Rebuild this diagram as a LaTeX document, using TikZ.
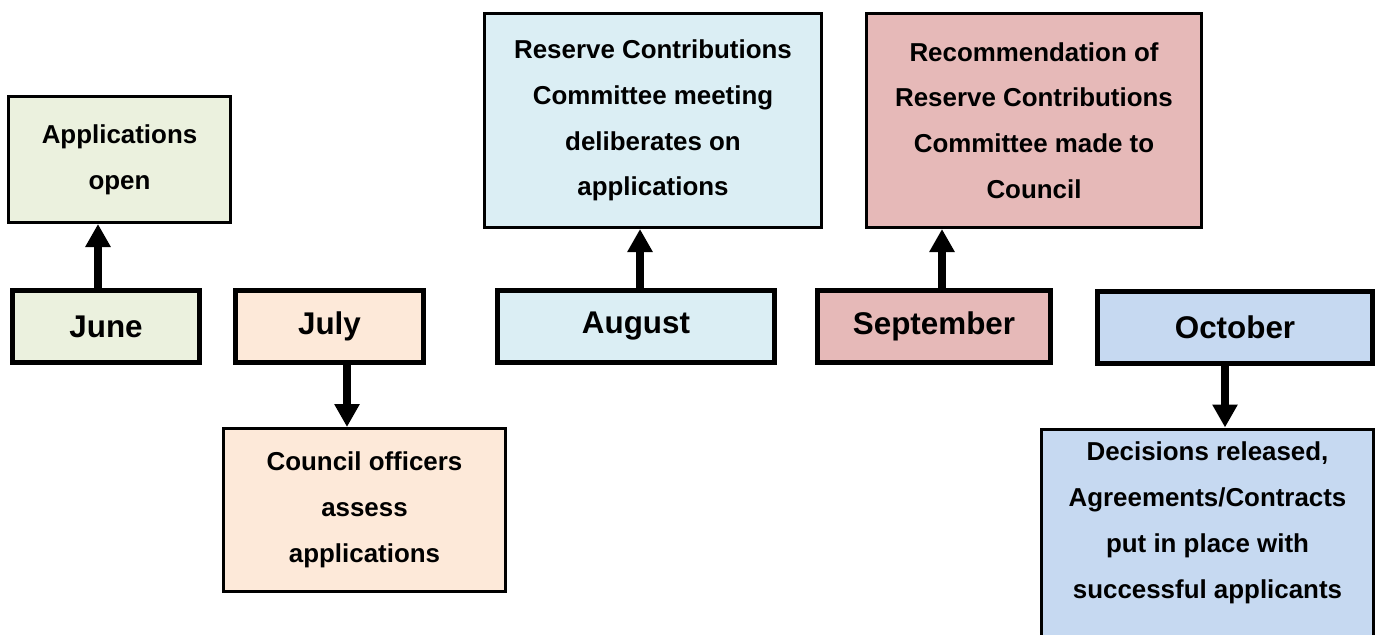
\documentclass[tikz,border=0pt]{standalone}
\usepackage{fontspec}
\setmainfont{Liberation Sans}
\usetikzlibrary{arrows.meta}
\definecolor{cgreen}{HTML}{EBF1DE}
\definecolor{cpeach}{HTML}{FDE9D9}
\definecolor{clblue}{HTML}{DBEEF4}
\definecolor{cpink}{HTML}{E6B9B8}
\definecolor{cblue}{HTML}{C6D9F1}
\tikzset{
  month/.style={draw=black, line width=5bp, inner sep=0pt, minimum height=72bp,
    font=\bfseries\fontsize{31.5}{36}\selectfont},
  desc/.style={draw=black, line width=3bp, inner sep=0pt, align=center,
    font=\bfseries\fontsize{26}{46}\selectfont},
  plain/.style={inner sep=0pt, align=center, font=\bfseries\fontsize{26}{46}\selectfont},
  arr/.style={line width=8bp, -{Triangle[width=24bp,length=23bp]}},
}
\begin{document}
\begin{tikzpicture}[x=1bp,y=-1bp]
\useasboundingbox (0,0) rectangle (1381,635);
\clip (0,0) rectangle (1381,635);
% month boxes
\node[month, fill=cgreen, minimum width=187bp] (june) at (106,326.5) {June};
\node[month, fill=cpeach, minimum width=188bp] (july) at (329.5,326) {July};
\node[month, fill=clblue, minimum width=277bp] (aug) at (636,326.5) {August};
\node[month, fill=cpink, minimum width=233bp] (sep) at (934,326.5) {September};
\node[month, fill=cblue, minimum width=275bp] (oct) at (1235,327) {October};
% description boxes
\node[desc, fill=cgreen, minimum width=222bp, minimum height=126bp] (apps) at (119.5,159.5)
  {Applications\\open};
\node[desc, fill=cpeach, minimum width=282bp, minimum height=163bp] (council) at (364.5,510)
  {Council officers\\assess\\applications};
\node[desc, fill=clblue, minimum width=337bp, minimum height=214bp] (rcc) at (653,120.5)
  {Reserve Contributions\\Committee meeting\\deliberates on\\applications};
\node[desc, fill=cpink, minimum width=335bp, minimum height=214bp] (rec) at (1034,120.5)
  {Recommendation of\\Reserve Contributions\\Committee made to\\Council};
\node[desc, fill=cblue, minimum width=332bp, minimum height=300bp, anchor=north] (dec) at (1207.5,427.5) {};
\node[plain] (dectext) at (1207.5,523)
  {Decisions released,\\Agreements/Contracts\\put in place with\\successful applicants};
% arrows
\draw[arr] ([xshift=-8bp]june.north) -- ([xshift=-8bp]june.north |- apps.south);
\draw[arr] ([xshift=17.5bp]july.south) -- ([xshift=17.5bp]july.south |- council.north);
\draw[arr] ([xshift=4bp]aug.north) -- ([xshift=4bp]aug.north |- rcc.south);
\draw[arr] ([xshift=8bp]sep.north) -- ([xshift=8bp]sep.north |- rec.south);
\draw[arr] ([xshift=-10bp]oct.south) -- ([xshift=-10bp]oct.south |- dec.north);
\end{tikzpicture}
\end{document}
